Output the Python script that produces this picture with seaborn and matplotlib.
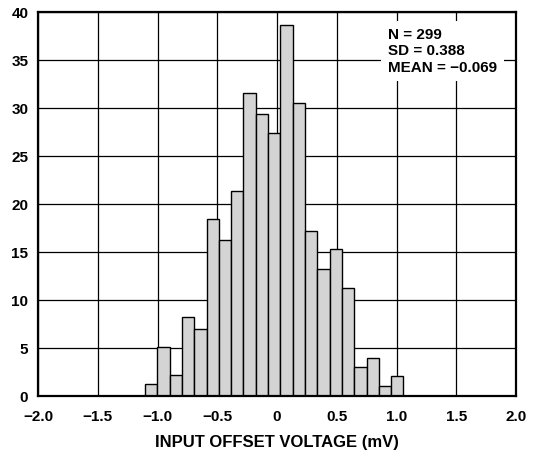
"""
Histograma de tension de offset de entrada (datasheet).
"""

import matplotlib

matplotlib.use("Agg")
import matplotlib.pyplot as plt
import numpy as np
import pandas as pd
import seaborn as sns

# Datos: 21 barras, desde -1.105 mV, ancho ~0.103 mV
BIN_START = -1.105
BIN_WIDTH = 0.103
counts = [1.3, 5.1, 2.2, 8.2, 7.0, 18.4, 16.3, 21.4, 31.6, 29.4, 27.4,
          38.6, 30.5, 17.2, 13.2, 15.3, 11.2, 3.0, 4.0, 1.0, 2.1]
x_ticks = [-2.0, -1.5, -1.0, -0.5, 0.0, 0.5, 1.0, 1.5, 2.0]
x_tick_labels = ["−2.0", "−1.5", "−1.0", "−0.5", "0", "0.5", "1.0", "1.5", "2.0"]
y_ticks = [0, 5, 10, 15, 20, 25, 30, 35, 40]
stats_text = "N = 299\nSD = 0.388\nMEAN = −0.069"

edges = BIN_START + BIN_WIDTH * np.arange(len(counts) + 1)
df = pd.DataFrame({
    "voltaje": (edges[:-1] + edges[1:]) / 2,
    "conteo": counts,
})

sns.set_style("white")
plt.rcParams["font.family"] = ["Liberation Sans", "DejaVu Sans"]
plt.rcParams["font.weight"] = "bold"
# texto negro puro, como en la hoja de datos
plt.rcParams["text.color"] = "black"
plt.rcParams["axes.labelcolor"] = "black"
plt.rcParams["xtick.color"] = "black"
plt.rcParams["ytick.color"] = "black"

fig = plt.figure(figsize=(5.37, 4.53), dpi=100)
ax = fig.add_axes([0.0708, 0.1258, 0.8902, 0.8477])

sns.histplot(
    data=df,
    x="voltaje",
    weights="conteo",
    bins=list(edges),
    color="#d4d4d4",
    edgecolor="black",
    linewidth=1.0,
    alpha=1.0,
    ax=ax,
)

ax.set_xlim(-2.0, 2.0)
ax.set_ylim(0, 40)
ax.set_xticks(x_ticks)
ax.set_xticklabels(x_tick_labels)
ax.set_yticks(y_ticks)
ax.tick_params(axis="both", length=0, labelsize=11, labelcolor="black")
ax.tick_params(axis="x", pad=10)
ax.tick_params(axis="y", pad=7)
for lab in ax.get_xticklabels() + ax.get_yticklabels():
    lab.set_fontweight("bold")

ax.set_axisbelow(True)
ax.grid(True, color="black", linewidth=0.9)
for sp in ax.spines.values():
    sp.set_visible(True)
    sp.set_color("black")
    sp.set_linewidth(1.6)

ax.set_xlabel("INPUT OFFSET VOLTAGE (mV)", fontsize=12, fontweight="bold",
              labelpad=8, color="black")
ax.set_ylabel("")

ax.text(
    0.732, 0.958, stats_text,
    transform=ax.transAxes,
    ha="left", va="top",
    fontsize=11, fontweight="bold", color="black",
    linespacing=1.2,
    bbox=dict(facecolor="white", edgecolor="none", pad=5),
    zorder=5,
)

fig.savefig("out.png", dpi=100)
plt.close(fig)
